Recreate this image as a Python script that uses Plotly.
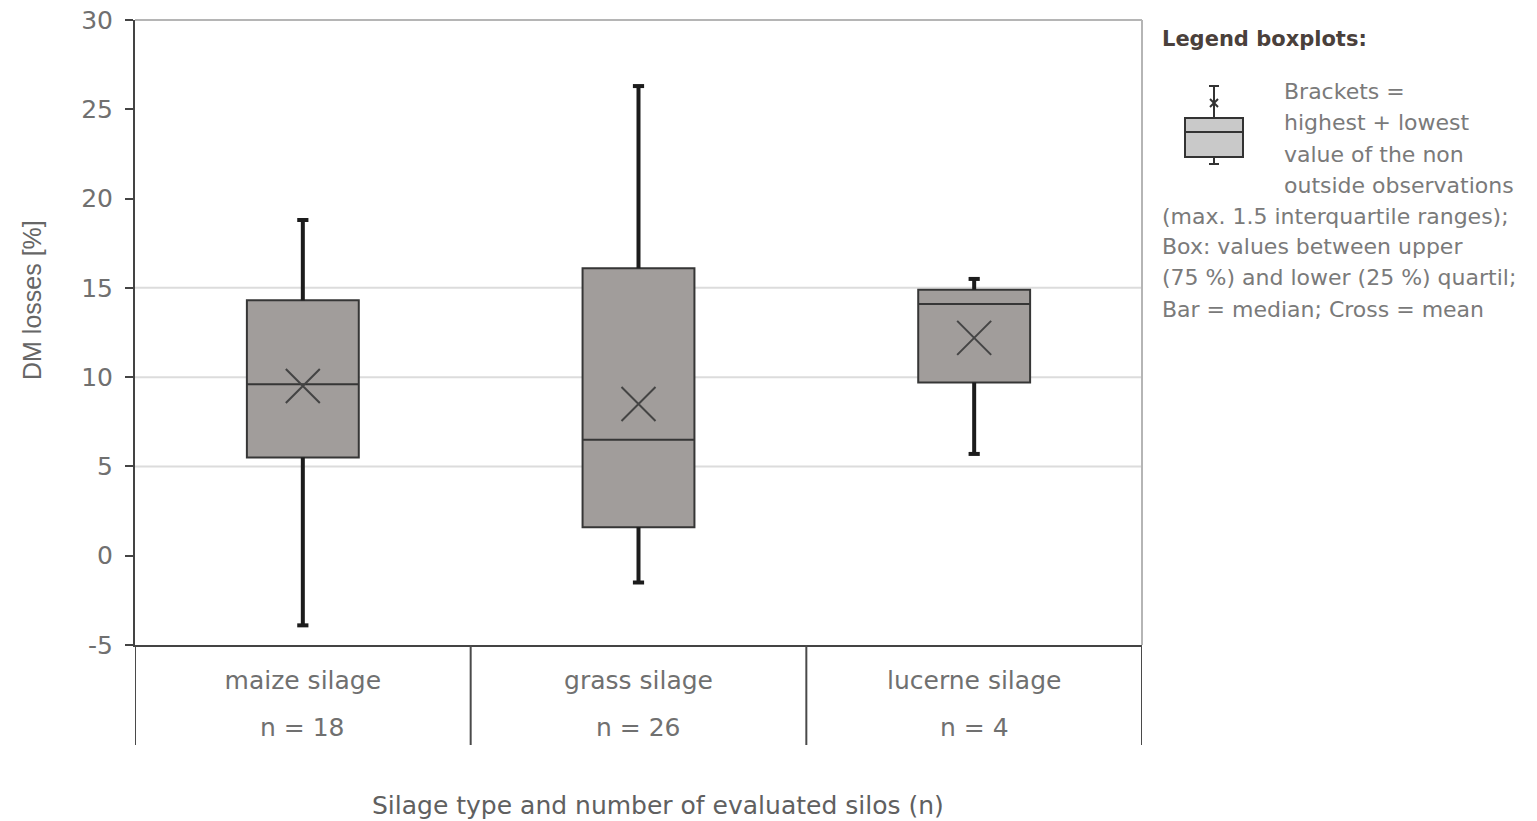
import plotly.graph_objects as go

# ---------------- data ----------------
categories = ["maize silage", "grass silage", "lucerne silage"]
n_silos = [18, 26, 4]
lower_whisker = [-3.9, -1.5, 5.7]
q1 = [5.5, 1.6, 9.7]
median = [9.6, 6.5, 14.1]
q3 = [14.3, 16.1, 14.9]
upper_whisker = [18.8, 26.3, 15.5]
mean = [9.5, 8.5, 12.2]

y_ticks = [-5, 0, 5, 10, 15, 20, 25, 30]
y_ticktext = ["-5", "0", "5", "10", "15", "20", "25", "30"]
grid_values = [5, 10, 15]

legend_lines = [
    ("Brackets =", 1282, 92),
    ("highest + lowest", 1282, 123),
    ("value of the non", 1282, 154),
    ("outside observations", 1282, 185),
    ("(max. 1.5 interquartile ranges);", 1160, 216),
    ("Box: values between upper", 1160, 247),
    ("(75 %) and lower (25 %) quartil;", 1160, 278),
    ("Bar = median; Cross = mean", 1160, 309),
]

# ---------------- layout geometry (page pixels of the reference) ----------------
OFF = 8                      # browser body margin
W, H = 1537 - OFF, 821 - OFF
PLOT_L, PLOT_R, PLOT_T, PLOT_B = 135, 1142, 20, 645
L = PLOT_L - OFF
T = PLOT_T - OFF
R = W - (PLOT_R - OFF)
B = H - (PLOT_B - OFF)
PW = PLOT_R - PLOT_L
PH = PLOT_B - PLOT_T


def px_x(x):
    return (x - PLOT_L) / PW


def px_y(y):
    return (PLOT_B - y) / PH


FONT = "DejaVu Sans, Verdana, sans-serif"
FONT2 = "Liberation Sans, Arial, sans-serif"
BOX_FILL = "#a19d9b"
TEXT_GREY = "#707070"

fig = go.Figure()

fig.add_trace(go.Box(
    x=categories,
    q1=q1, median=median, q3=q3,
    lowerfence=lower_whisker, upperfence=upper_whisker,
    width=1 / 3,
    whiskerwidth=0,
    fillcolor=BOX_FILL,
    line=dict(color="#363636", width=2),
    boxpoints=False,
    hoverinfo="skip",
    showlegend=False,
))

# thick whiskers with small caps
wx, wy = [], []
for c, lo, a, b, hi in zip(categories, lower_whisker, q1, q3, upper_whisker):
    wx += [c, c, None, c, c, None]
    wy += [b, hi, None, a, lo, None]
fig.add_trace(go.Scatter(
    x=wx, y=wy, mode="lines",
    line=dict(color="#1c1c1c", width=4),
    hoverinfo="skip", showlegend=False,
))
fig.add_trace(go.Scatter(
    x=categories + categories, y=upper_whisker + lower_whisker, mode="markers",
    marker=dict(symbol="line-ew", size=8, line=dict(color="#1c1c1c", width=4)),
    hoverinfo="skip", showlegend=False,
))

# mean crosses
fig.add_trace(go.Scatter(
    x=categories, y=mean, mode="markers",
    marker=dict(symbol="x-thin", size=34, color="#444444",
                line=dict(color="#444444", width=2)),
    hoverinfo="skip", showlegend=False,
))

shapes = []
for g in grid_values:
    shapes.append(dict(type="line", xref="paper", yref="y", x0=0, x1=1, y0=g, y1=g,
                       line=dict(color="#dcdcdc", width=2), layer="below"))
shapes.append(dict(type="line", xref="paper", yref="paper", x0=0, x1=1, y0=1, y1=1,
                   line=dict(color="#b5b5b5", width=2)))
shapes.append(dict(type="line", xref="paper", yref="paper", x0=1, x1=1, y0=0, y1=1,
                   line=dict(color="#b5b5b5", width=2)))
for i in range(len(categories) + 1):
    shapes.append(dict(type="line", xref="x", yref="paper",
                       x0=i - 0.5, x1=i - 0.5, y0=0, y1=px_y(745),
                       line=dict(color="#4a4a4a", width=2)))

# legend icon (small boxplot)
ic_l, ic_r, ic_c = 1185, 1243, 1214
ic_top, ic_med, ic_bot = 118, 132, 157
ICON = dict(color="#333333", width=2)


def seg(x0, y0, x1, y1):
    return dict(type="line", xref="paper", yref="paper",
                x0=px_x(x0), x1=px_x(x1), y0=px_y(y0), y1=px_y(y1), line=ICON)


shapes.append(dict(type="rect", xref="paper", yref="paper",
                   x0=px_x(ic_l), x1=px_x(ic_r), y0=px_y(ic_bot), y1=px_y(ic_top),
                   fillcolor="#c9c9c9", line=ICON))
shapes.append(seg(ic_l, ic_med, ic_r, ic_med))
shapes.append(seg(ic_c, ic_top, ic_c, 86))
shapes.append(seg(ic_c - 5, 86, ic_c + 5, 86))
shapes.append(seg(ic_c, ic_bot, ic_c, 164))
shapes.append(seg(ic_c - 5, 164, ic_c + 5, 164))
shapes.append(seg(ic_c - 4, 99, ic_c + 4, 107))
shapes.append(seg(ic_c - 4, 107, ic_c + 4, 99))

annotations = []
for c, n in zip(categories, n_silos):
    annotations.append(dict(x=c, xref="x", y=px_y(727), yref="paper",
                            text=f"n = {n}", showarrow=False,
                            font=dict(family=FONT, size=25, color=TEXT_GREY),
                            xanchor="center", yanchor="middle"))
annotations.append(dict(x=px_x(658), xref="paper", y=px_y(805), yref="paper",
                        text="Silage type and number of evaluated silos (n)",
                        showarrow=False, xanchor="center", yanchor="middle",
                        font=dict(family=FONT, size=25, color="#606060")))
annotations.append(dict(x=px_x(32), xref="paper", y=px_y(300), yref="paper",
                        text="DM losses [%]", textangle=-90,
                        showarrow=False, xanchor="center", yanchor="middle",
                        font=dict(family=FONT2, size=25, color="#666666")))
annotations.append(dict(x=px_x(1160), xref="paper", y=px_y(39), yref="paper",
                        text="<b>Legend boxplots:</b>", showarrow=False,
                        xanchor="left", yanchor="middle",
                        font=dict(family=FONT, size=21, color="#4a403b")))
for txt, lx, ly in legend_lines:
    annotations.append(dict(x=px_x(lx), xref="paper", y=px_y(ly), yref="paper",
                            text=txt, showarrow=False,
                            xanchor="left", yanchor="middle",
                            font=dict(family=FONT, size=22, color="#7a7a7a")))

fig.update_layout(
    width=W, height=H,
    margin=dict(l=L, r=R, t=T, b=B, pad=0, autoexpand=False),
    plot_bgcolor="white", paper_bgcolor="white",
    showlegend=False,
    shapes=shapes,
    annotations=annotations,
    xaxis=dict(
        type="category", categoryorder="array", categoryarray=categories,
        range=[-0.5, len(categories) - 0.5],
        showline=True, linecolor="#444444", linewidth=2,
        ticks="", showgrid=False, zeroline=False, automargin=False,
        tickfont=dict(family=FONT, size=25, color=TEXT_GREY),
        ticklabelstandoff=12,
    ),
    yaxis=dict(
        range=[-5, 30], tickvals=y_ticks, ticktext=y_ticktext,
        showline=True, linecolor="#444444", linewidth=2,
        ticks="outside", ticklen=8, tickwidth=2, tickcolor="#444444",
        showgrid=False, zeroline=False, automargin=False,
        ticklabeloverflow="allow", ticklabelstandoff=7,
        tickfont=dict(family=FONT, size=25, color=TEXT_GREY),
    ),
)

fig.write_html("out.html")
